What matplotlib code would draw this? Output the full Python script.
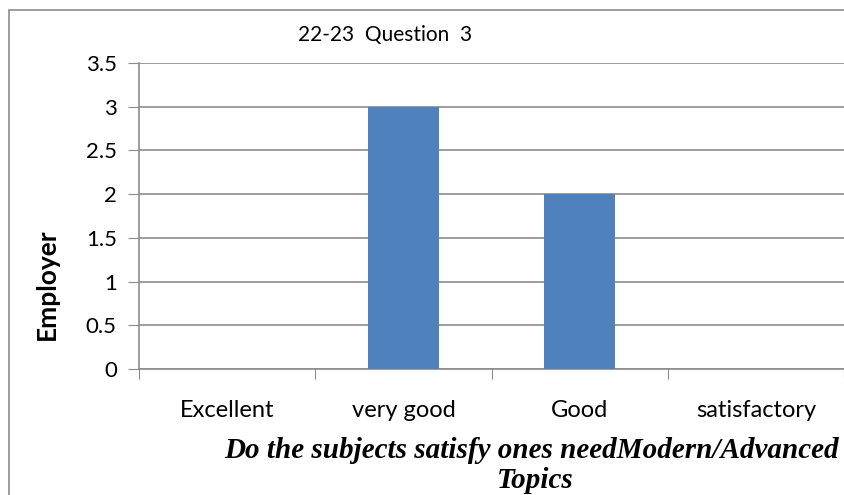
import numpy as np
import matplotlib.pyplot as plt
from matplotlib.patches import Rectangle

categories = ['Excellent', 'very good', 'Good', 'satisfactory']
values = [0, 3, 2, 0]
yticks = [0, 0.5, 1, 1.5, 2, 2.5, 3, 3.5]
ytick_labels = ['0', '0.5', '1', '1.5', '2', '2.5', '3', '3.5']

W, H = 844, 495
fig = plt.figure(figsize=(W / 100, H / 100), dpi=100)
ax = fig.add_axes([139 / W, 1 - 369 / H, (844 - 139) / W, (369 - 63) / H])

x = np.arange(len(categories))
ax.bar(x, values, width=0.4, color='#4f81bd', zorder=3)

ax.set_xlim(-0.5, len(categories) - 0.5)
ax.set_ylim(0, 3.5)
ax.set_yticks(yticks)
ax.set_yticklabels(ytick_labels, fontsize=16, family='Lato')
ax.set_xticks(np.arange(len(categories) + 1) - 0.5)
ax.set_xticklabels([])
ax.set_xticks(x, minor=True)
ax.set_xticklabels(categories, minor=True, fontsize=17, family='Lato')
ax.tick_params(axis='x', which='minor', length=0, pad=22)
ax.tick_params(axis='x', which='major', length=7, color='#8c8c8c', direction='out')
ax.tick_params(axis='y', length=8, color='#8c8c8c', direction='out', pad=8)
ax.grid(axis='y', color='#8c8c8c', linewidth=1.2, zorder=0)
for s in ['top', 'right']:
    ax.spines[s].set_visible(False)
for s in ['left', 'bottom']:
    ax.spines[s].set_color('#8c8c8c')
    ax.spines[s].set_linewidth(1.2)

fig.text(47 / W, 1 - 284 / H, 'Employer', rotation=90, fontsize=19, fontweight='bold',
         family='Lato', ha='center', va='center')
fig.text(298 / W, 1 - 35 / H, '22-23  Question  3', fontsize=15, family='Lato',
         ha='left', va='center')
fig.text(532 / W, 1 - 450 / H, 'Do the subjects satisfy ones needModern/Advanced',
         fontsize=21, family='Liberation Serif', fontweight='bold', style='italic',
         ha='center', va='center')
fig.text(535 / W, 1 - 480 / H, 'Topics',
         fontsize=21, family='Liberation Serif', fontweight='bold', style='italic',
         ha='center', va='center')

fig.patches.append(Rectangle((9 / W, -0.1), 1.2, 1 - 10 / H + 0.1, transform=fig.transFigure,
                             fill=False, edgecolor='#8c8c8c', linewidth=1.2))

fig.savefig('out.png', dpi=100)
